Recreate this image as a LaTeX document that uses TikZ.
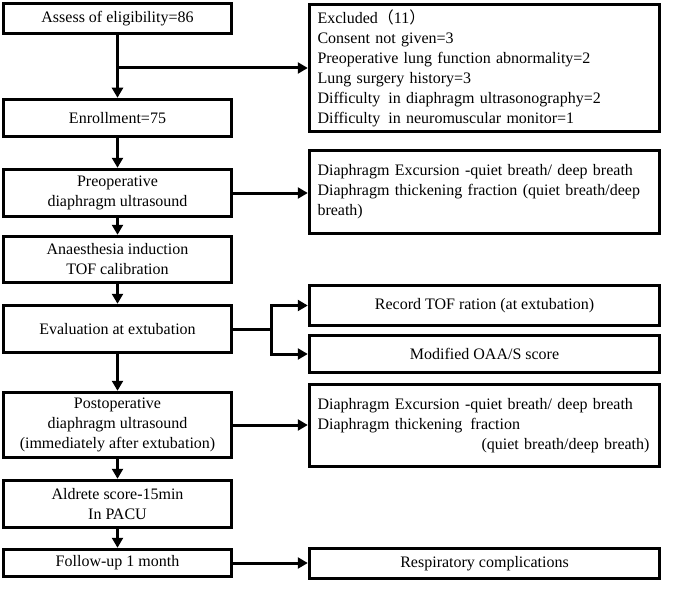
\documentclass[tikz,border=0pt]{standalone}
\usepackage{fontspec}
\setmainfont{Liberation Serif}
\newfontfamily\cjk{Noto Sans CJK SC}
\usetikzlibrary{arrows.meta}
\begin{document}
\begin{tikzpicture}[x=1pt,y=-1pt,
  box/.style={draw=black,line width=3.5pt,inner sep=0pt,font=\fontsize{16}{20}\selectfont},
  lbox/.style={box,minimum width=228pt,align=center},
  rbox/.style={box,minimum width=350pt,text width=334pt,align=left},
  arr/.style={line width=3pt,-{Triangle[length=10pt,width=11pt]}},
  ln/.style={line width=3pt}]
\useasboundingbox (0,0) rectangle (685,591);
% left column
\node[lbox,minimum height=30pt] (assess) at (117.5,18.5) {Assess of eligibility=86};
\node[lbox,minimum height=37pt] (enrol) at (117.5,118) {Enrollment=75};
\node[lbox,minimum height=47pt] (preop) at (117.5,193) {Preoperative\\diaphragm ultrasound};
\node[lbox,minimum height=46pt] (anaes) at (117.5,259.5) {Anaesthesia induction\\TOF calibration};
\node[lbox,minimum height=47pt] (eval) at (117.5,329) {Evaluation at extubation};
\node[lbox,minimum height=65pt] (postop) at (117.5,425) {Postoperative\\diaphragm ultrasound\\(immediately after extubation)};
\node[lbox,minimum height=47pt] (aldrete) at (117.5,504) {Aldrete score-15min\\In PACU};
\node[lbox,minimum height=27pt] (follow) at (117.5,563) {Follow-up 1 month};
% right column
\node[rbox,minimum height=127pt] (excl) at (484.5,68) {Excluded{\cjk （}11{\cjk ）}\\Consent not given=3\\Preoperative lung function abnormality=2\\Lung surgery history=3\\Difficulty\, in diaphragm ultrasonography=2\\Difficulty\, in neuromuscular monitor=1};
\node[rbox,minimum height=83pt] (diaA) at (484.5,192) {Diaphragm Excursion -quiet breath/ deep breath\\Diaphragm thickening fraction (quiet breath/deep\\breath)};
\node[box,minimum width=350pt,minimum height=40pt] (tof) at (484.5,305.5) {Record TOF ration (at extubation)};
\node[box,minimum width=350pt,minimum height=37pt] (oaa) at (484.5,354) {Modified OAA/S score};
\node[rbox,minimum height=82pt] (diaB) at (484.5,425.5) {Diaphragm Excursion -quiet breath/ deep breath\\Diaphragm thickening\, fraction\\\makebox[334pt][r]{(quiet breath/deep breath)\hspace*{2pt}}};
\node[box,minimum width=350pt,minimum height=30pt] (resp) at (484.5,563.5) {Respiratory complications};
% vertical connectors
\draw[arr] (assess) -- (enrol);
\draw[arr] (enrol) -- (preop);
\draw[arr] (preop) -- (anaes);
\draw[arr] (anaes) -- (eval);
\draw[arr] (eval) -- (postop);
\draw[arr] (postop) -- (aldrete);
\draw[arr] (aldrete) -- (follow);
% horizontal connectors
\coordinate (exsplit) at (117.5,68);
\draw[arr] (exsplit) -- (excl.west);
\draw[arr] (preop.east) -- (preop.east -| diaA.west);
\coordinate (br) at (271,329);
\draw[ln] (eval.east) -- (br);
\draw[arr] (br) |- (tof.west);
\draw[arr] (br) |- (oaa.west);
\draw[arr] (postop.east) -- (postop.east -| diaB.west);
\draw[arr] (follow.east) -- (follow.east -| resp.west);
\end{tikzpicture}
\end{document}
